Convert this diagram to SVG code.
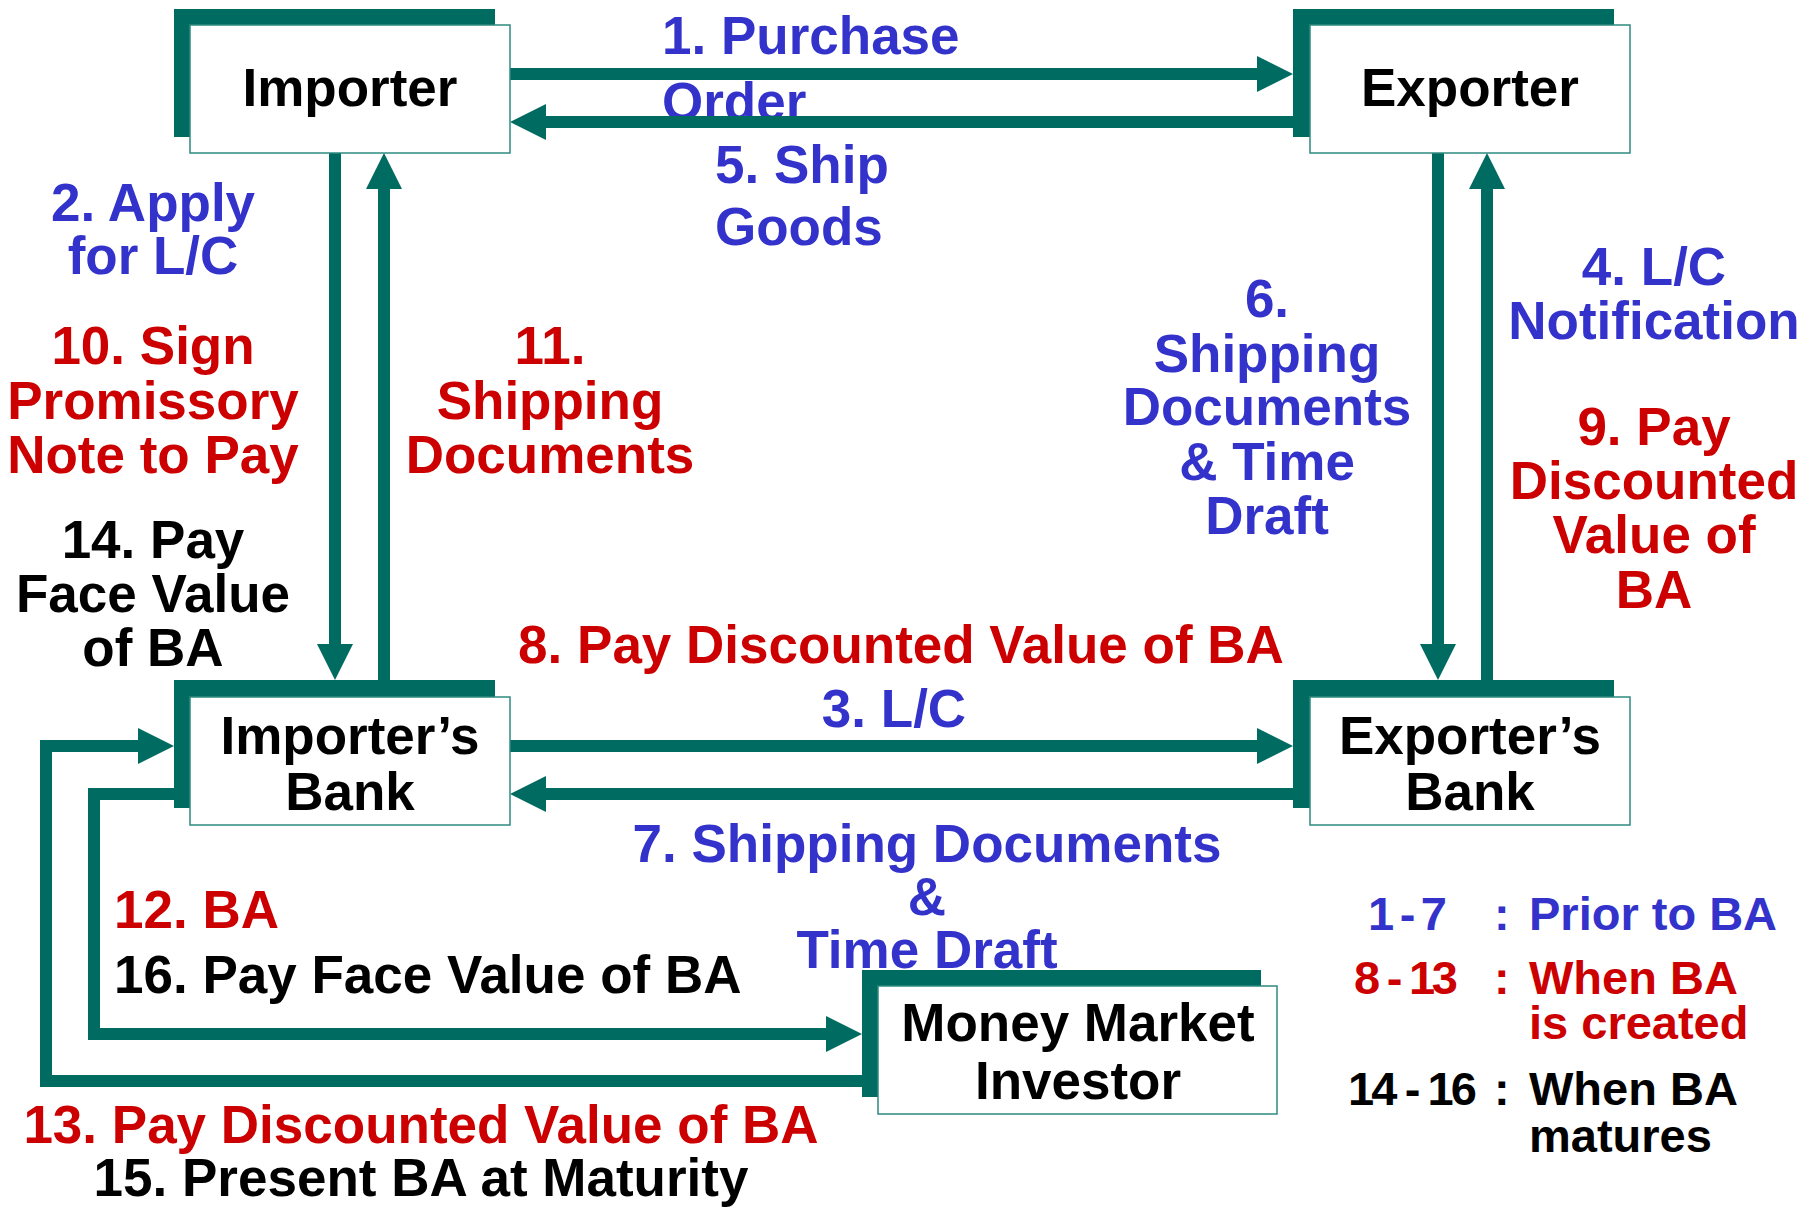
<svg xmlns="http://www.w3.org/2000/svg" width="1814" height="1209" viewBox="0 0 1814 1209">
<style>
text{font-family:"Liberation Sans",Arial,sans-serif;font-weight:bold;font-size:53px}
.b{fill:#3333CC}
.r{fill:#CC0000}
.k{fill:#000000}
.c{text-anchor:middle}
.lg{font-size:47px}
.back{fill:#006B60}
.front{fill:#FFFFFF;stroke:#2E8A80;stroke-width:1.5}
.conn{fill:none;stroke:#006B60;stroke-width:12;stroke-linejoin:miter}
</style>
<defs>
<marker id="ah" markerUnits="userSpaceOnUse" markerWidth="36" markerHeight="36" refX="1" refY="18" orient="auto">
<path d="M0,0 L36,18 L0,36 Z" fill="#006B60"/>
</marker>
</defs>
<rect width="1814" height="1209" fill="#FFFFFF"/>
<g id="labels">
<text class="b" x="662" y="54">1. Purchase</text>
<text class="b" x="662" y="120">Order</text>
<text class="b" x="715" y="183">5. Ship</text>
<text class="b" x="715" y="245">Goods</text>
<text class="b c" x="153" y="221">2. Apply</text>
<text class="b c" x="153" y="274">for L/C</text>
<text class="r c" x="153" y="364">10. Sign</text>
<text class="r c" x="153" y="419">Promissory</text>
<text class="r c" x="153" y="473">Note to Pay</text>
<text class="k c" x="153" y="558">14. Pay</text>
<text class="k c" x="153" y="612">Face Value</text>
<text class="k c" x="153" y="666">of BA</text>
<text class="r c" x="550" y="364">11.</text>
<text class="r c" x="550" y="419">Shipping</text>
<text class="r c" x="550" y="473">Documents</text>
<text class="b c" x="1267" y="317">6.</text>
<text class="b c" x="1267" y="372">Shipping</text>
<text class="b c" x="1267" y="425">Documents</text>
<text class="b c" x="1267" y="480">&amp; Time</text>
<text class="b c" x="1267" y="534">Draft</text>
<text class="b c" x="1654" y="285">4. L/C</text>
<text class="b c" x="1654" y="339">Notification</text>
<text class="r c" x="1654" y="445">9. Pay</text>
<text class="r c" x="1654" y="499">Discounted</text>
<text class="r c" x="1654" y="553">Value of</text>
<text class="r c" x="1654" y="608">BA</text>
<text class="r c" x="901" y="663">8. Pay Discounted Value of BA</text>
<text class="b c" x="894" y="727">3. L/C</text>
<text class="b c" x="927" y="862">7. Shipping Documents</text>
<text class="b c" x="927" y="915">&amp;</text>
<text class="b c" x="927" y="968">Time Draft</text>
<text class="r" x="114" y="928">12. BA</text>
<text class="k" x="114" y="993">16. Pay Face Value of BA</text>
<text class="r c" x="421" y="1143">13. Pay Discounted Value of BA</text>
<text class="k c" x="421" y="1196">15. Present BA at Maturity</text>
</g>
<g id="legend">
<text class="b lg" x="1368" y="930" textLength="79" lengthAdjust="spacing">1 - 7</text>
<text class="b lg" x="1494" y="930">:</text>
<text class="b lg" x="1529" y="930">Prior to BA</text>
<text class="r lg" x="1354" y="994" textLength="104" lengthAdjust="spacing">8 - 13</text>
<text class="r lg" x="1494" y="994">:</text>
<text class="r lg" x="1529" y="994">When BA</text>
<text class="r lg" x="1529" y="1039">is created</text>
<text class="k lg" x="1348" y="1105" textLength="129" lengthAdjust="spacing">14 - 16</text>
<text class="k lg" x="1494" y="1105">:</text>
<text class="k lg" x="1529" y="1105">When BA</text>
<text class="k lg" x="1529" y="1152">matures</text>
</g>
<g id="connectors">
<path class="conn" d="M510,74 H1258" marker-end="url(#ah)"/>
<path class="conn" d="M1293,122 H545" marker-end="url(#ah)"/>
<path class="conn" d="M335,153 V645" marker-end="url(#ah)"/>
<path class="conn" d="M384,680 V188" marker-end="url(#ah)"/>
<path class="conn" d="M1438,153 V645" marker-end="url(#ah)"/>
<path class="conn" d="M1487,680 V188" marker-end="url(#ah)"/>
<path class="conn" d="M510,746 H1258" marker-end="url(#ah)"/>
<path class="conn" d="M1293,794 H545" marker-end="url(#ah)"/>
<path class="conn" d="M862,1081 H46 V746 H139" marker-end="url(#ah)"/>
<path class="conn" d="M174,794 H94 V1034 H827" marker-end="url(#ah)"/>
</g>
<g id="importer">
<rect class="back" x="174" y="9" width="321" height="128"/>
<rect class="front" x="190" y="25" width="320" height="128"/>
<text class="k c" x="350" y="106">Importer</text>
</g>
<g id="exporter">
<rect class="back" x="1293" y="9" width="321" height="128"/>
<rect class="front" x="1310" y="25" width="320" height="128"/>
<text class="k c" x="1470" y="106">Exporter</text>
</g>
<g id="importers-bank">
<rect class="back" x="174" y="680" width="321" height="128"/>
<rect class="front" x="190" y="697" width="320" height="128"/>
<text class="k c" x="350" y="754">Importer’s</text>
<text class="k c" x="350" y="810">Bank</text>
</g>
<g id="exporters-bank">
<rect class="back" x="1293" y="680" width="321" height="128"/>
<rect class="front" x="1310" y="697" width="320" height="128"/>
<text class="k c" x="1470" y="754">Exporter’s</text>
<text class="k c" x="1470" y="810">Bank</text>
</g>
<g id="money-market-investor">
<rect class="back" x="862" y="970" width="399" height="127"/>
<rect class="front" x="878" y="986" width="399" height="128"/>
<text class="k c" x="1078" y="1041">Money Market</text>
<text class="k c" x="1078" y="1099">Investor</text>
</g>
</svg>
